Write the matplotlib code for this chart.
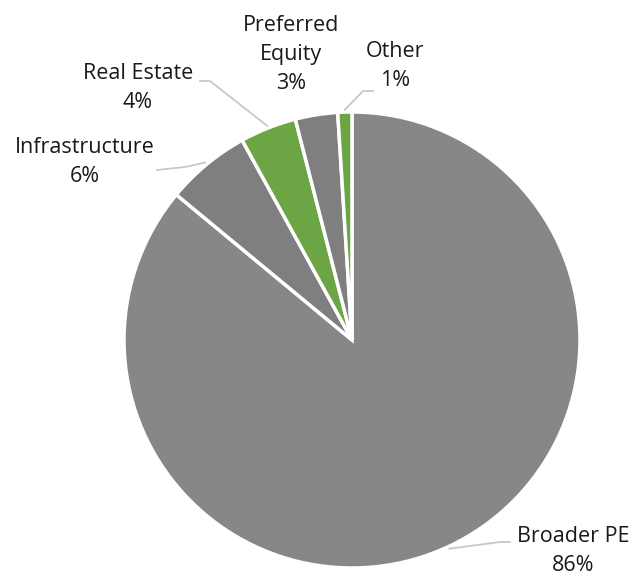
import matplotlib.pyplot as plt
import numpy as np

labels = ["Broader PE", "Infrastructure", "Real Estate", "Preferred\nEquity", "Other"]
values = [86, 6, 4, 3, 1]
colors = ["#878787", "#7f7f7f", "#6ca544", "#7f7f7f", "#6ca544"]

# label layout in pixel space (center x, center y), and leader elbow points
W, H = 633, 576
CX, CY, R = 352, 340, 228
text_pos = [(573, 551), (85, 162), (138, 88), (291, 55), (395, 66)]
elbows = [[(500, 542), (510, 542)], [(185, 167), (157, 170)],
          [(210, 81), (200, 81)], None, [(363, 91), (373, 91)]]


def px(p):
    return ((p[0] - CX) / R, (CY - p[1]) / R)


def main():
    plt.rcParams['font.family'] = ['Open Sans', 'DejaVu Sans']
    fig = plt.figure(figsize=(W / 100, H / 100), dpi=100)
    ax = fig.add_axes([0, 0, 1, 1])
    wedges, _ = ax.pie(values, colors=colors, startangle=90, counterclock=False,
                       radius=1, wedgeprops=dict(edgecolor="white", linewidth=2.5))
    ax.set_xlim(-CX / R, (W - CX) / R)
    ax.set_ylim(-(H - CY) / R, CY / R)
    ax.set_aspect('equal')
    ax.axis('off')

    for w, lab, v, tp, el in zip(wedges, labels, values, text_pos, elbows):
        tx, ty = px(tp)
        ax.text(tx, ty, f"{lab}\n{v}%", ha="center", va="center",
                fontsize=15.5, color="#1a1a1a", linespacing=1.5)
        if el is None:
            continue
        # leader starts just outside the wedge edge at its mid angle
        a = np.deg2rad((w.theta1 + w.theta2) / 2)
        if lab == "Broader PE":
            a = np.deg2rad(-65)
        sx, sy = 1.01 * np.cos(a), 1.01 * np.sin(a)
        pts = [(sx, sy)] + [px(p) for p in el]
        ax.plot([p[0] for p in pts], [p[1] for p in pts], color="#c8c8c8", lw=1.3)

    fig.savefig("out.png", dpi=100)


if __name__ == '__main__':
    main()
